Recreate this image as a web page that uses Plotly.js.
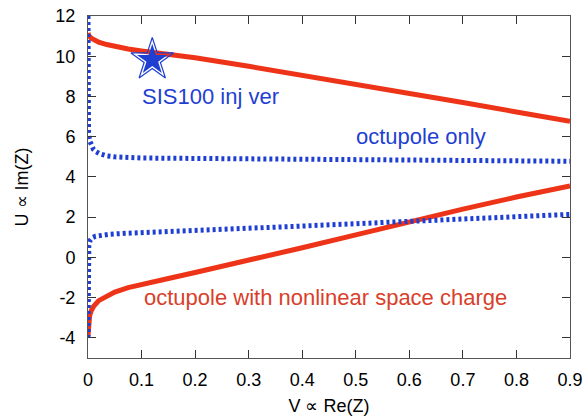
<!DOCTYPE html>
<html>
<head>
<meta charset="utf-8">
<script src="https://cdn.plot.ly/plotly-3.0.1.min.js"></script>
<style>html,body{margin:0;padding:0;background:#fff;}#chart{width:588px;height:416px;}</style>
</head>
<body>
<div id="chart"></div>
<script>
// Upper red branch (octupole with nonlinear space charge)
const redUpperX = [0, 0.002, 0.006, 0.012, 0.02, 0.035, 0.05, 0.075, 0.1, 0.15, 0.2, 0.3, 0.4, 0.5, 0.6, 0.7, 0.8, 0.9];
const redUpperY = [11.15, 11.0, 10.9, 10.8, 10.7, 10.58, 10.48, 10.36, 10.26, 10.09, 9.92, 9.5, 9.06, 8.6, 8.15, 7.7, 7.23, 6.77];
// Lower red branch
const redLowerX = [0, 0.0005, 0.0015, 0.003, 0.006, 0.01, 0.02, 0.035, 0.05, 0.075, 0.1, 0.15, 0.2, 0.3, 0.4, 0.5, 0.6, 0.7, 0.8, 0.9];
const redLowerY = [-3.9, -3.5, -3.15, -2.9, -2.65, -2.45, -2.15, -1.9, -1.72, -1.5, -1.33, -1.05, -0.75, -0.15, 0.48, 1.12, 1.78, 2.4, 3.0, 3.55];
// Upper blue branch (octupole only)
const blueUpperX = [0, 0, 0.001, 0.003, 0.006, 0.01, 0.015, 0.022, 0.035, 0.05, 0.1, 0.2, 0.3, 0.4, 0.5, 0.6, 0.7, 0.8, 0.9];
const blueUpperY = [12, 7, 6.2, 5.8, 5.55, 5.38, 5.25, 5.15, 5.05, 5.0, 4.94, 4.92, 4.9, 4.89, 4.88, 4.86, 4.84, 4.82, 4.78];
// Lower blue branch
const blueLowerX = [0, 0, 0.0015, 0.004, 0.008, 0.014, 0.022, 0.04, 0.07, 0.1, 0.2, 0.3, 0.4, 0.5, 0.6, 0.7, 0.8, 0.9];
const blueLowerY = [-4, 0.2, 0.6, 0.85, 0.98, 1.05, 1.1, 1.15, 1.2, 1.24, 1.34, 1.45, 1.56, 1.67, 1.8, 1.92, 2.03, 2.14];
// Working point
const starX = [0.12];
const starY = [9.82];
// Labels
const labelTexts = ["SIS100 inj ver", "octupole only", "octupole with nonlinear space charge"];
const labelX = [0.228, 0.622, 0.444];
const labelY = [8.0, 6.0, -2.0];
const xTicks = [0, 0.1, 0.2, 0.3, 0.4, 0.5, 0.6, 0.7, 0.8, 0.9];
const yTicks = [-4, -2, 0, 2, 4, 6, 8, 10, 12];

const RED = '#ee3418';
const BLUE = '#1f3fd2';
const FONT = 'Liberation Sans, Arial, Helvetica, sans-serif';

const redLine = {color: RED, width: 5};
const blueLine = {color: BLUE, width: 5, dash: '3px,3px'};

const traces = [
  {x: redUpperX, y: redUpperY, mode: 'lines', line: redLine, cliponaxis: false, hoverinfo: 'skip'},
  {x: redLowerX, y: redLowerY, mode: 'lines', line: redLine, cliponaxis: false, hoverinfo: 'skip'},
  {x: blueUpperX, y: blueUpperY, mode: 'lines', line: blueLine, cliponaxis: false, hoverinfo: 'skip'},
  {x: blueLowerX, y: blueLowerY, mode: 'lines', line: blueLine, cliponaxis: false, hoverinfo: 'skip'},
  {x: starX, y: starY, mode: 'markers', marker: {symbol: 'star-open', size: 32, color: BLUE, line: {width: 1.2, color: BLUE}}, hoverinfo: 'skip'},
  {x: starX, y: starY, mode: 'markers', marker: {symbol: 'star', size: 23, color: BLUE, line: {width: 0}}, hoverinfo: 'skip'}
];

const annColors = [BLUE, BLUE, '#d8402a'];
const annotations = labelTexts.map((t, i) => ({
  x: labelX[i], y: labelY[i], xref: 'x', yref: 'y', text: t, showarrow: false,
  font: {family: FONT, size: 22, color: annColors[i]}, xanchor: 'center', yanchor: 'middle'
}));

const axisCommon = {
  showgrid: false, zeroline: false, showline: true, linecolor: '#555', linewidth: 1,
  mirror: 'ticks', ticks: 'inside', ticklen: 8, tickwidth: 1, tickcolor: '#333',
  tickfont: {family: FONT, size: 18, color: '#000'}
};

const layout = {
  width: 588, height: 416,
  margin: {l: 88, r: 18, t: 16, b: 58},
  paper_bgcolor: '#fff', plot_bgcolor: '#fff',
  showlegend: false,
  font: {family: FONT},
  xaxis: Object.assign({}, axisCommon, {
    range: [0, 0.9], tickvals: xTicks, ticktext: xTicks.map(v => String(v)),
    ticklabelstandoff: 5,
    title: {text: 'V \u221D Re(Z)', font: {family: FONT, size: 18, color: '#000'}, standoff: 10}
  }),
  yaxis: Object.assign({}, axisCommon, {
    range: [-5, 12], tickvals: yTicks, ticktext: yTicks.map(v => String(v)),
    ticklabelstandoff: 8,
    title: {text: 'U \u221D Im(Z)', font: {family: FONT, size: 18, color: '#000'}, standoff: 22}
  }),
  annotations: annotations
};

Plotly.newPlot('chart', traces, layout, {staticPlot: true, displayModeBar: false});
</script>
</body>
</html>
